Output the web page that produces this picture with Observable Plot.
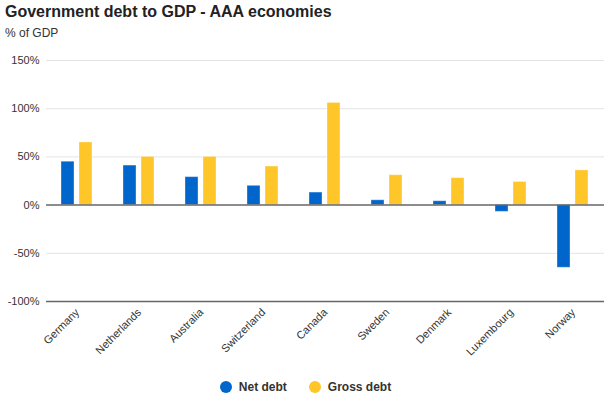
<!DOCTYPE html>
<html><head><meta charset="utf-8">
<script src="https://cdn.jsdelivr.net/npm/d3@7"></script>
<script src="https://cdn.jsdelivr.net/npm/@observablehq/plot@0.6"></script>
<style>
body{margin:0;font-family:"Liberation Sans",Arial,sans-serif;background:#fff;width:605px;height:398px;overflow:hidden;position:relative}
#title{position:absolute;left:5px;top:3px;font-size:16px;font-weight:bold;color:#222;white-space:nowrap}
#subtitle{position:absolute;left:5px;top:26px;font-size:12px;color:#333}
#chart{position:absolute;left:0;top:45px}
#legend{position:absolute;left:0;width:605px;top:378px;height:18px;display:flex;justify-content:center;align-items:center;font-size:12px;font-weight:bold;color:#333;padding-left:6px;box-sizing:border-box}
.item{display:flex;align-items:center;margin:0 11px}
.dot{width:12px;height:12px;border-radius:50%;margin-right:7px}
</style></head>
<body>
<div id="title">Government debt to GDP - AAA economies</div>
<div id="subtitle">% of GDP</div>
<div id="chart"></div>
<div id="legend"></div>
<script>
const countries = ["Germany","Netherlands","Australia","Switzerland","Canada","Sweden","Denmark","Luxembourg","Norway"];
const netDebt = [45, 41, 29, 20, 13, 5, 4, -7, -65];
const grossDebt = [65, 50, 50, 40, 106, 31, 28, 24, 36];
const series = ["Net debt", "Gross debt"];
const colors = ["#0066cc", "#ffc629"];
const yTicks = [-100, -50, 0, 50, 100, 150];

const data = countries.flatMap((c, i) => [
  {country: c, series: series[0], value: netDebt[i]},
  {country: c, series: series[1], value: grossDebt[i]}
]);

const chart = Plot.plot({
  width: 605, height: 330,
  marginLeft: 45, marginRight: 0, marginTop: 15, marginBottom: 74,
  style: {fontFamily: '"Liberation Sans", Arial, sans-serif', fontSize: "11px", color: "#333", background: "white"},
  fx: {domain: countries, padding: 0, label: null, tickRotate: -45, tickSize: 0, tickPadding: 9, axis: "bottom"},
  x: {domain: series, paddingInner: 0.263, paddingOuter: 0.77, axis: null},
  y: {domain: [-100, 150], ticks: yTicks, tickFormat: d => d + "%", label: null, tickSize: 0, tickPadding: 7},
  color: {domain: series, range: colors},
  marks: [
    Plot.ruleY(yTicks.filter(d => d !== 0 && d !== -100), {stroke: "#e4e4e4", strokeWidth: 1}),
    Plot.barY(data, {fx: "country", x: "series", y: "value", fill: "series", stroke: "white", strokeOpacity: 0.35, strokeWidth: 1}),
    Plot.ruleY([0, -100], {stroke: "#666", strokeWidth: 1.5})
  ]
});
document.getElementById("chart").appendChild(chart);

const legend = document.getElementById("legend");
series.forEach((s, i) => {
  const item = document.createElement("div");
  item.className = "item";
  item.innerHTML = `<span class="dot" style="background:${colors[i]}"></span><span>${s}</span>`;
  legend.appendChild(item);
});
</script>
</body></html>
